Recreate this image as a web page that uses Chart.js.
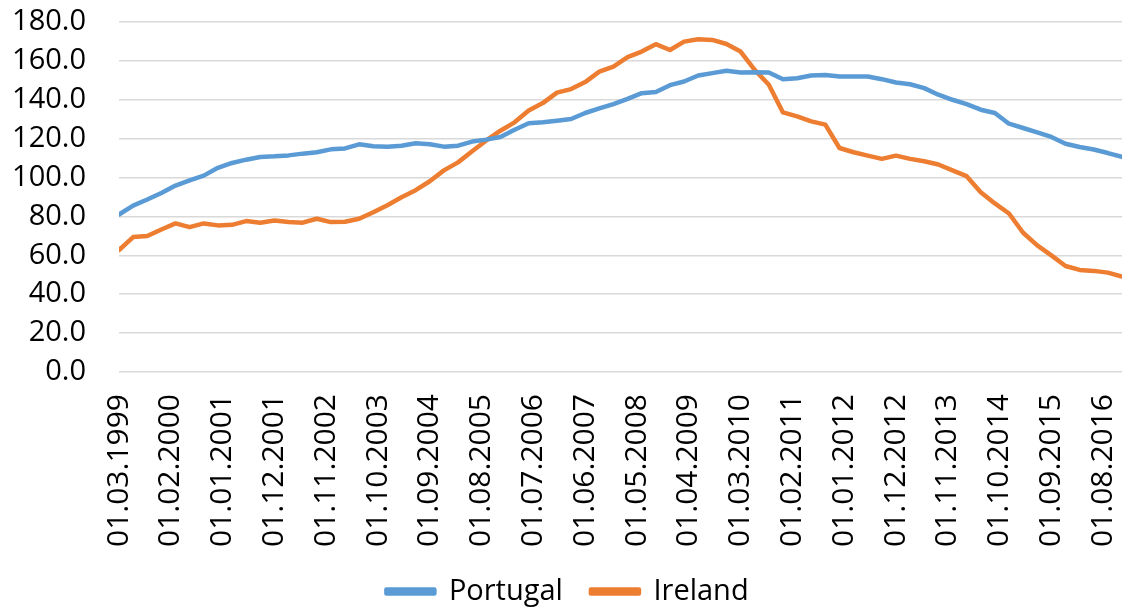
<!DOCTYPE html>
<html>
<head>
<meta charset="utf-8">
<script src="https://cdn.jsdelivr.net/npm/chart.js@4.4.1/dist/chart.umd.min.js"></script>
<style>
  html, body { margin: 0; padding: 0; background: #ffffff; }
  #wrap { width: 1123px; height: 610px; }
</style>
</head>
<body>
<div id="wrap"><canvas id="c" width="1123" height="610"></canvas></div>
<script>
// Quarterly observation dates (dd.mm.yyyy)
const dates = [
  "01.03.1999","01.06.1999","01.09.1999","01.12.1999",
  "01.03.2000","01.06.2000","01.09.2000","01.12.2000",
  "01.03.2001","01.06.2001","01.09.2001","01.12.2001",
  "01.03.2002","01.06.2002","01.09.2002","01.12.2002",
  "01.03.2003","01.06.2003","01.09.2003","01.12.2003",
  "01.03.2004","01.06.2004","01.09.2004","01.12.2004",
  "01.03.2005","01.06.2005","01.09.2005","01.12.2005",
  "01.03.2006","01.06.2006","01.09.2006","01.12.2006",
  "01.03.2007","01.06.2007","01.09.2007","01.12.2007",
  "01.03.2008","01.06.2008","01.09.2008","01.12.2008",
  "01.03.2009","01.06.2009","01.09.2009","01.12.2009",
  "01.03.2010","01.06.2010","01.09.2010","01.12.2010",
  "01.03.2011","01.06.2011","01.09.2011","01.12.2011",
  "01.03.2012","01.06.2012","01.09.2012","01.12.2012",
  "01.03.2013","01.06.2013","01.09.2013","01.12.2013",
  "01.03.2014","01.06.2014","01.09.2014","01.12.2014",
  "01.03.2015","01.06.2015","01.09.2015","01.12.2015",
  "01.03.2016","01.06.2016","01.09.2016","01.12.2016"
];

const portugal = [
  81.0, 85.6, 88.7, 92.1, 95.9, 98.6, 101.0, 105.0,
  107.5, 109.2, 110.6, 110.9, 111.4, 112.3, 113.0, 114.5,
  115.0, 117.1, 116.1, 115.8, 116.4, 117.6, 117.1, 115.9,
  116.4, 118.5, 119.5, 120.9, 124.6, 127.9, 128.4, 129.2,
  130.1, 133.2, 135.6, 137.8, 140.5, 143.4, 144.0, 147.5,
  149.4, 152.5, 153.7, 154.9, 154.0, 154.2, 154.0, 150.6,
  151.1, 152.5, 152.8, 152.0, 152.0, 152.0, 150.6, 148.9,
  148.0, 146.0, 142.6, 140.0, 137.8, 134.9, 133.2, 127.7,
  125.5, 123.2, 120.9, 117.4, 115.7, 114.4, 112.6, 110.6
];

const ireland = [
  62.7, 69.4, 69.9, 73.3, 76.4, 74.5, 76.4, 75.4,
  75.7, 77.6, 76.8, 77.9, 77.1, 76.8, 78.8, 77.1,
  77.3, 78.8, 82.2, 85.8, 89.9, 93.5, 98.1, 103.7,
  107.8, 113.5, 119.1, 124.1, 128.4, 134.5, 138.3, 143.7,
  145.5, 149.1, 154.5, 157.1, 161.9, 164.8, 168.6, 165.6,
  169.9, 171.1, 170.8, 168.7, 164.8, 155.4, 147.7, 133.5,
  131.5, 128.9, 127.2, 115.2, 113.0, 111.3, 109.6, 111.3,
  109.6, 108.4, 106.7, 103.7, 100.7, 92.5, 86.7, 81.5,
  71.6, 65.1, 60.0, 54.5, 52.5, 52.0, 51.1, 49.1
];

// Axis tick labels (every 11 months)
const tickLabels = [
  "01.03.1999","01.02.2000","01.01.2001","01.12.2001","01.11.2002",
  "01.10.2003","01.09.2004","01.08.2005","01.07.2006","01.06.2007",
  "01.05.2008","01.04.2009","01.03.2010","01.02.2011","01.01.2012",
  "01.12.2012","01.11.2013","01.10.2014","01.09.2015","01.08.2016"
];

const yTicks = [0, 20, 40, 60, 80, 100, 120, 140, 160, 180];

// month index relative to first date
function monthIndex(s) {
  const p = s.split(".");
  const f = dates[0].split(".");
  return (parseInt(p[2]) - parseInt(f[2])) * 12 + (parseInt(p[1]) - parseInt(f[1]));
}

const ptData = dates.map((d, i) => ({ x: monthIndex(d), y: portugal[i] }));
const ieData = dates.map((d, i) => ({ x: monthIndex(d), y: ireland[i] }));
const tickPos = tickLabels.map(monthIndex);

const FONT = "'Open Sans', sans-serif";
Chart.defaults.font.family = FONT;
Chart.defaults.color = "#000000";

new Chart(document.getElementById("c"), {
  type: "line",
  data: {
    datasets: [
      { label: "Portugal", data: ptData, borderColor: "#5B9BD5", backgroundColor: "#5B9BD5",
        borderWidth: 4.5, pointRadius: 0, tension: 0, borderJoinStyle: "round", borderCapStyle: "round" },
      { label: "Ireland", data: ieData, borderColor: "#ED7D31", backgroundColor: "#ED7D31",
        borderWidth: 4.5, pointRadius: 0, tension: 0, borderJoinStyle: "round", borderCapStyle: "round" }
    ]
  },
  options: {
    responsive: false,
    animation: false,
    events: [],
    layout: { padding: { left: 13, right: 1, top: 22, bottom: -6 } },
    scales: {
      x: {
        type: "linear",
        min: monthIndex(dates[0]),
        max: monthIndex(dates[dates.length - 1]),
        afterBuildTicks: (axis) => { axis.ticks = tickPos.map(v => ({ value: v })); },
        afterFit: (axis) => { axis.paddingLeft = 0; axis.paddingRight = 0; axis.height = 177; },
        grid: { display: true, drawOnChartArea: false, drawTicks: true, tickLength: 20, color: "rgba(0,0,0,0)" },
        border: { display: false },
        ticks: {
          autoSkip: false, maxRotation: 90, minRotation: 90, padding: 2,
          font: { size: 30 },
          callback: (v, i) => tickLabels[i]
        }
      },
      y: {
        min: 0, max: 180,
        afterBuildTicks: (axis) => { axis.ticks = yTicks.map(v => ({ value: v })); },
        afterFit: (axis) => { axis.width = 106; axis.paddingTop = 0; axis.paddingBottom = 0; },
        grid: { color: "#d9d9d9", lineWidth: 1.5, drawTicks: false },
        border: { display: false },
        ticks: { autoSkip: false, padding: 33, font: { size: 29 }, callback: (v) => Number(v).toFixed(1) }
      }
    },
    plugins: {
      tooltip: { enabled: false },
      legend: {
        position: "bottom",
        labels: { boxWidth: 48, boxHeight: 4, padding: 28, font: { size: 29 }, color: "#000000" }
      }
    }
  }
});
</script>
</body>
</html>
